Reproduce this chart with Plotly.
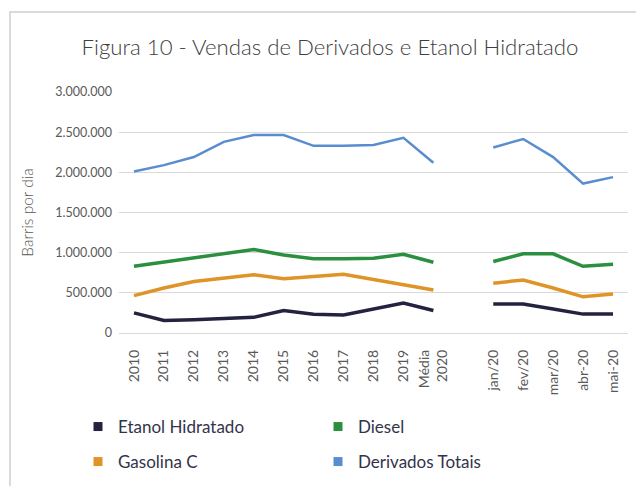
import plotly.graph_objects as go

categories = ["2010", "2011", "2012", "2013", "2014", "2015", "2016", "2017", "2018", "2019",
              "Média<br>2020", " ", "jan/20", "fev/20", "mar/20", "abr-20", "mai-20"]

etanol = [250000, 155000, 165000, 180000, 195000, 280000, 232000, 225000, 300000, 372000, 280000,
          None, 360000, 360000, 300000, 235000, 235000]
diesel = [830000, 885000, 940000, 990000, 1040000, 970000, 925000, 925000, 930000, 980000, 880000,
          None, 890000, 985000, 985000, 830000, 855000]
gasolina = [465000, 560000, 640000, 680000, 725000, 675000, 700000, 730000, 665000, 600000, 535000,
            None, 620000, 660000, 560000, 450000, 485000]
derivados = [2010000, 2090000, 2190000, 2380000, 2465000, 2465000, 2330000, 2330000, 2340000, 2430000, 2120000,
             None, 2310000, 2415000, 2190000, 1860000, 1940000]

series = [
    ("Etanol Hidratado", etanol, "#23223f", 3.5, "legend"),
    ("Diesel", diesel, "#2a8f3e", 3.5, "legend2"),
    ("Gasolina C", gasolina, "#df9428", 3.5, "legend3"),
    ("Derivados Totais", derivados, "#5a8dd0", 2.5, "legend4"),
]

fig = go.Figure()
for name, vals, color, w, lg in series:
    fig.add_trace(go.Scatter(x=categories, y=vals, mode="lines", name=name,
                             line=dict(color=color, width=w), showlegend=False,
                             legendgroup=name, connectgaps=False, hoverinfo="x+y"))
for name, vals, color, w, lg in series:
    fig.add_trace(go.Scatter(x=[None], y=[None], mode="markers", name=name,
                             marker=dict(color=color, symbol="square", size=9),
                             legendgroup=name, showlegend=True, legend=lg))

pl, pr, pt, pb = 119, 8, 92, 153
W, H = 636, 486
pw, ph = W - pl - pr, H - pt - pb

def px_x(x):
    return (x - pl) / pw

def px_y(y):
    return (H - pb - y) / ph

leg_font = dict(size=17, color="#33334a", family="Lato, sans-serif")
def leg(xp, yp):
    return dict(x=px_x(xp), xanchor="left", y=px_y(yp), yanchor="middle",
                font=leg_font, bgcolor="rgba(0,0,0,0)", borderwidth=0)

fig.update_layout(
    width=W, height=H,
    margin=dict(l=pl, r=pr, t=pt, b=pb, autoexpand=False),
    paper_bgcolor="white", plot_bgcolor="white",
    separators=",.",
    font=dict(family="Lato, sans-serif", color="#595959"),
    title=dict(text="Figura 10 - Vendas de Derivados e Etanol Hidratado",
               x=330 / W, xanchor="center", y=1 - 47 / H, yanchor="middle",
               yref="container", xref="container",
               font=dict(size=22.2, color="#404040", family="Lato, sans-serif", weight=300)),
    xaxis=dict(type="category", categoryorder="array", categoryarray=categories,
               range=[-0.5, len(categories) - 0.5], showgrid=False, showline=False,
               ticks="", tickangle=-90, tickfont=dict(size=14, color="#595959"),
               ticklabelstandoff=13, automargin=False, fixedrange=True),
    yaxis=dict(range=[0, 3000000], dtick=500000, tickformat=",d", showgrid=True,
               gridcolor="#d9d9d9", gridwidth=1, zeroline=True, zerolinecolor="#d9d9d9",
               zerolinewidth=1, showline=False, ticks="", ticklen=0,
               tickfont=dict(size=12.5, color="#595959"), ticklabelstandoff=6,
               title=dict(text="Barris por dia", standoff=17,
                          font=dict(size=15.5, color="#595959", weight=300)),
               automargin=False, fixedrange=True),
    legend=leg(78, 427),
    legend2=leg(318, 427),
    legend3=leg(78, 462),
    legend4=leg(318, 462),
    shapes=[dict(type="rect", xref="paper", yref="paper",
                 x0=px_x(10), x1=px_x(W + 20), y0=px_y(H + 20), y1=px_y(12),
                 line=dict(color="#cfcfcf", width=1.5), fillcolor="rgba(0,0,0,0)", layer="below")],
)

fig.write_html("out.html", post_script="document.body.style.margin='0';",
               config={"displayModeBar": False})
